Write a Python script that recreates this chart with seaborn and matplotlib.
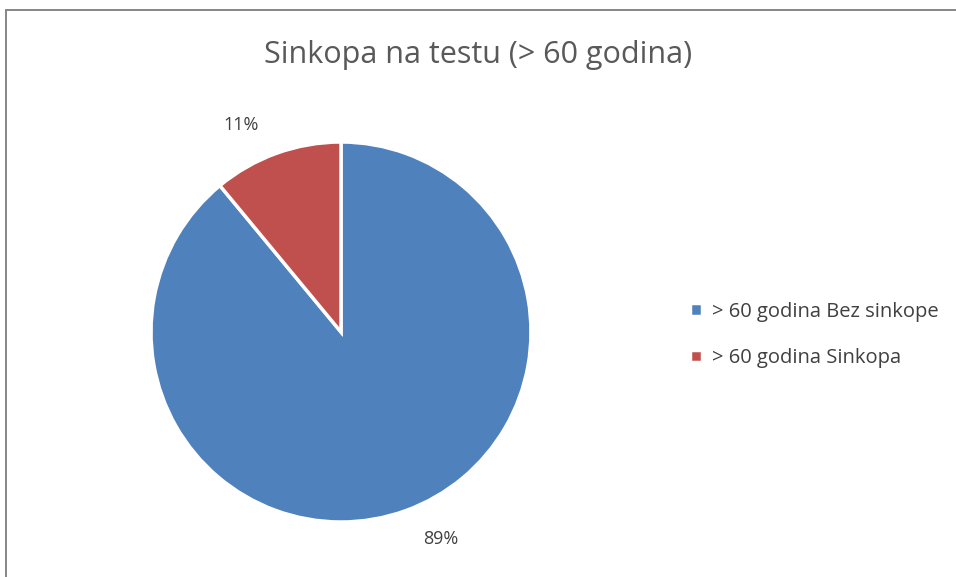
import matplotlib
matplotlib.use("Agg")
import numpy as np
import seaborn as sns
from matplotlib import pyplot as plt
from matplotlib.patches import Rectangle

categories = ["> 60 godina Bez sinkope", "> 60 godina Sinkopa"]
shares = [89, 11]
colors = sns.color_palette(["#4F81BD", "#C0504D"])
title = "Sinkopa na testu (> 60 godina)"

sns.set_theme(style="white")
plt.rcParams["font.family"] = ["Open Sans", "DejaVu Sans"]

fig = plt.figure(figsize=(9.56, 5.77), dpi=100)
ax = fig.add_axes([151 / 956, 55 / 577, 380 / 956, 380 / 577])

wedges, texts, autotexts = ax.pie(
    shares,
    colors=colors,
    startangle=90,
    counterclock=False,
    autopct="%.0f%%",
    pctdistance=1.21,
    radius=1.0,
    wedgeprops=dict(edgecolor="white", linewidth=2.5),
    textprops=dict(color="#404040", fontsize=13),
)
# nudge the percentage labels the way the office chart places them
for w, t in zip(wedges, autotexts):
    mid = np.deg2rad((w.theta1 + w.theta2) / 2 + 6)
    t.set_position((1.21 * np.cos(mid), 1.21 * np.sin(mid)))
ax.set_aspect("equal")
ax.set_xlim(-1, 1)
ax.set_ylim(-1, 1)
ax.axis("off")

fig.text(0.5, 1 - 55 / 577, title, ha="center", va="center",
         fontsize=22, color="#595959")

fig.legend(wedges, categories, loc="center left",
           bbox_to_anchor=(672 / 956, 1 - 335 / 577),
           frameon=False, fontsize=14.5, labelcolor="#404040",
           handlelength=0.6, handleheight=0.6, handletextpad=0.5,
           labelspacing=1.3)

fig.add_artist(Rectangle((6 / 956, -0.05), 1.0, 1 - 9.5 / 577 + 0.05,
                         transform=fig.transFigure, fill=False,
                         edgecolor="#868686", linewidth=1.4))

fig.savefig("out.png", dpi=100)
